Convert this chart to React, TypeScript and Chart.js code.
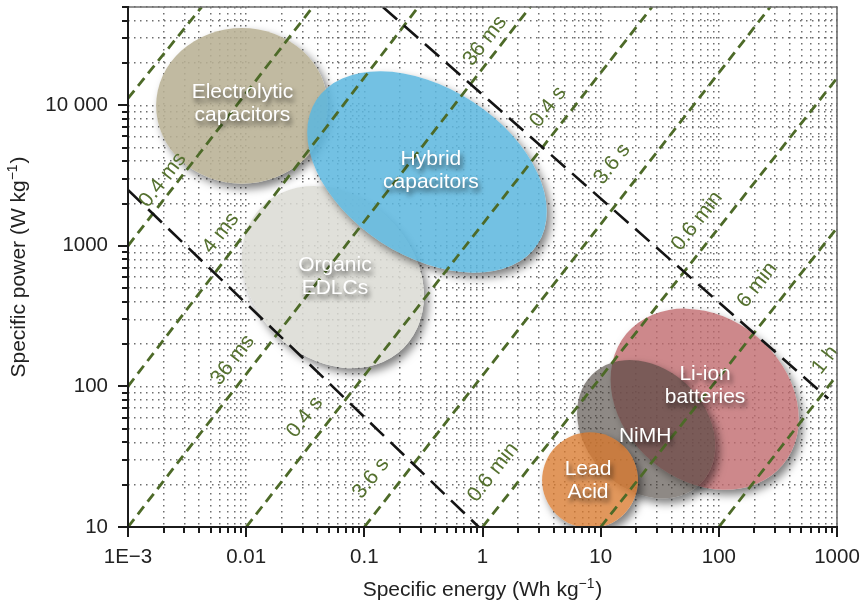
import React, { useEffect, useRef } from 'react';
import { Chart, registerables } from 'chart.js';

Chart.register(...registerables);

const FONT = '"Liberation Sans", Arial, Helvetica, sans-serif';

// Axis ranges, decades and printed tick labels
const energyMin = 0.001;
const energyMax = 1000;
const powerMin = 10;
const powerMax = 50000;
const energyDecades = [0.001, 0.01, 0.1, 1, 10, 100, 1000];
const energyTickLabels = ['1E\u22123', '0.01', '0.1', '1', '10', '100', '1000'];
const powerDecades = [10, 100, 1000, 10000];
const powerTickLabels = ['10', '100', '1000', '10 000'];

// Constant time lines (green): start and end point of each, [energy, power]
const timeLineStart: [number, number][] = [
  [0.001, 11200], [0.001, 1000], [0.001, 100], [0.001, 10],
  [0.01, 10], [0.1, 10], [1, 10], [10, 10], [100, 10],
];
const timeLineEnd: [number, number][] = [
  [0.0042, 50000], [0.0366, 50000], [0.286, 50000], [2.53, 50000],
  [27.2, 50000], [272, 50000], [1000, 15600], [1000, 1340], [1000, 120],
];

// Black dashed guide lines, [energy, power]
const guideLineStart: [number, number][] = [[0.001, 2500], [0.1435, 50000]];
const guideLineEnd: [number, number][] = [[0.93, 10], [843, 82]];

// Time labels along the green lines
const timeLabelText = ['0.4 ms', '4 ms', '36 ms', '0.4 s', '3.6 s', '0.6 min', '36 ms', '0.4 s', '3.6 s', '0.6 min', '6 min', '1 h'];
const timeLabelEnergy = [0.00197, 0.0061, 0.0077, 0.0314, 0.114, 1.23, 1.05, 3.59, 12.5, 65.6, 211, 796];
const timeLabelPower = [2940, 1233, 154, 60.4, 22.2, 24.5, 28700, 9720, 3820, 1500, 526, 154];

// Storage technology regions (drawn in this order)
const regionNames = ['Electrolytic\ncapacitors', 'Organic\nEDLCs', 'Hybrid\ncapacitors', 'Li-ion\nbatteries', 'NiMH', 'Lead\nAcid'];
const regionEnergy = [0.0092, 0.0542, 0.339, 75.9, 24.3, 8.13];
const regionPower = [9900, 600, 3350, 81.1, 49.6, 21.5];
// end of each region's major semi-axis
const regionAxisEnergy = [0.049, 0.215, 2.93, 348, 70, 20.7];
const regionAxisPower = [9900, 188, 1030, 27.7, 20.3, 21.5];
// minor / major axis ratio
const regionAspect = [0.907, 0.81, 0.636, 0.8, 0.785, 1.0];
const regionColors = [
  'rgba(184,176,148,0.88)',
  'rgba(219,219,212,0.86)',
  'rgba(92,183,222,0.86)',
  'rgba(192,106,110,0.8)',
  'rgba(72,64,58,0.62)',
  'rgba(216,122,46,0.78)',
];
const regionLabelEnergy = [0.0093, 0.0564, 0.366, 76.5, 23.8, 7.82];
const regionLabelPower = [10200, 600, 3400, 102, 44.3, 21.5];

const GREEN = '#4d6a28';

function logTickValues(min: number, max: number): number[] {
  const out: number[] = [];
  for (let e = Math.floor(Math.log10(min)); e <= Math.ceil(Math.log10(max)); e++) {
    for (let m = 1; m <= 9; m++) {
      const v = parseFloat((m * Math.pow(10, e)).toPrecision(6));
      if (v >= min * 0.999 && v <= max * 1.001) out.push(v);
    }
  }
  return out;
}

const energyTickValues = logTickValues(energyMin, energyMax);
const powerTickValues = logTickValues(powerMin, powerMax);

function decadeIndex(v: number, decades: number[]): number {
  return decades.findIndex((d) => Math.abs(Math.log10(v) - Math.log10(d)) < 1e-6);
}

function drawTitleWithUnit(ctx: CanvasRenderingContext2D, before: string, sup: string, after: string, size: number) {
  // draws text centred on (0,0) baseline with a raised superscript part
  ctx.font = `${size}px ${FONT}`;
  const w1 = ctx.measureText(before).width;
  const w3 = ctx.measureText(after).width;
  ctx.font = `${size * 0.66}px ${FONT}`;
  const w2 = ctx.measureText(sup).width;
  const total = w1 + w2 + w3 + 1;
  let x = -total / 2;
  ctx.textAlign = 'left';
  ctx.textBaseline = 'alphabetic';
  ctx.font = `${size}px ${FONT}`;
  ctx.fillText(before, x, 0);
  x += w1;
  ctx.font = `${size * 0.66}px ${FONT}`;
  ctx.fillText(sup, x, -size * 0.4);
  x += w2 + 1;
  ctx.font = `${size}px ${FONT}`;
  ctx.fillText(after, x, 0);
}

const regionsPlugin = {
  id: 'regions',
  beforeDatasetsDraw(chart: any) {
    const { ctx, chartArea: ca, scales } = chart;
    const xs = scales.x;
    const ys = scales.y;
    ctx.save();
    ctx.beginPath();
    ctx.rect(ca.left, ca.top, ca.right - ca.left, ca.bottom - ca.top);
    ctx.clip();
    regionNames.forEach((_, i) => {
      const cx = xs.getPixelForValue(regionEnergy[i]);
      const cy = ys.getPixelForValue(regionPower[i]);
      const ex = xs.getPixelForValue(regionAxisEnergy[i]);
      const ey = ys.getPixelForValue(regionAxisPower[i]);
      const a = Math.hypot(ex - cx, ey - cy);
      const b = a * regionAspect[i];
      const ang = Math.atan2(ey - cy, ex - cx);

      // soft drop shadow, kept outside the shape so the translucent fill stays clean
      ctx.save();
      ctx.beginPath();
      ctx.rect(0, 0, chart.width, chart.height);
      ctx.ellipse(cx, cy, a, b, ang, 0, Math.PI * 2);
      ctx.clip('evenodd');
      const shift = 3000;
      ctx.shadowColor = 'rgba(0,0,0,0.5)';
      ctx.shadowBlur = 9;
      ctx.shadowOffsetX = shift + 4;
      ctx.shadowOffsetY = 5;
      ctx.fillStyle = '#000';
      ctx.beginPath();
      ctx.ellipse(cx - shift, cy, a, b, ang, 0, Math.PI * 2);
      ctx.fill();
      ctx.restore();

      ctx.fillStyle = regionColors[i];
      ctx.beginPath();
      ctx.ellipse(cx, cy, a, b, ang, 0, Math.PI * 2);
      ctx.fill();
    });
    ctx.restore();
  },
  afterDatasetsDraw(chart: any) {
    const { ctx, scales } = chart;
    const xs = scales.x;
    const ys = scales.y;
    ctx.save();
    // time constant labels
    ctx.fillStyle = '#55712f';
    ctx.font = `21px ${FONT}`;
    ctx.textAlign = 'center';
    ctx.textBaseline = 'middle';
    timeLabelText.forEach((t, i) => {
      const px = xs.getPixelForValue(timeLabelEnergy[i]);
      const py = ys.getPixelForValue(timeLabelPower[i]);
      ctx.save();
      ctx.translate(px, py);
      ctx.rotate((-52 * Math.PI) / 180);
      ctx.fillText(t, 0, 0);
      ctx.restore();
    });
    // region names
    ctx.font = `21px ${FONT}`;
    ctx.fillStyle = '#ffffff';
    ctx.shadowColor = 'rgba(0,0,0,0.65)';
    ctx.shadowBlur = 5;
    ctx.shadowOffsetX = 2;
    ctx.shadowOffsetY = 4;
    regionNames.forEach((name, i) => {
      const px = xs.getPixelForValue(regionLabelEnergy[i]);
      const py = ys.getPixelForValue(regionLabelPower[i]);
      const lines = name.split('\n');
      const lh = 23;
      lines.forEach((ln, k) => {
        ctx.fillText(ln, px, py + (k - (lines.length - 1) / 2) * lh);
      });
    });
    ctx.restore();
  },
  afterDraw(chart: any) {
    const { ctx, chartArea: ca, scales } = chart;
    const xs = scales.x;
    const ys = scales.y;
    ctx.save();
    // frame: light on top and right, dark axes on left and bottom
    ctx.strokeStyle = '#6e6e6e';
    ctx.lineWidth = 1.6;
    ctx.beginPath();
    ctx.moveTo(ca.left, ca.top);
    ctx.lineTo(ca.right, ca.top);
    ctx.lineTo(ca.right, ca.bottom);
    ctx.stroke();
    ctx.strokeStyle = '#1b1b1b';
    ctx.lineWidth = 2;
    ctx.beginPath();
    ctx.moveTo(ca.left, ca.top - 1);
    ctx.lineTo(ca.left, ca.bottom);
    ctx.lineTo(ca.right + 1, ca.bottom);
    ctx.stroke();
    ctx.beginPath();
    energyTickValues.forEach((v) => {
      const px = Math.round(xs.getPixelForValue(v));
      const len = decadeIndex(v, energyDecades) >= 0 ? 10 : 6;
      ctx.moveTo(px, ca.bottom);
      ctx.lineTo(px, ca.bottom + len);
    });
    powerTickValues.forEach((v) => {
      const py = Math.round(ys.getPixelForValue(v));
      const len = decadeIndex(v, powerDecades) >= 0 ? 10 : 6;
      ctx.moveTo(ca.left, py);
      ctx.lineTo(ca.left - len, py);
    });
    ctx.stroke();

    // axis titles
    ctx.fillStyle = '#222';
    ctx.save();
    ctx.translate((ca.left + ca.right) / 2, 596);
    drawTitleWithUnit(ctx, 'Specific energy (Wh kg', '\u22121', ')', 21);
    ctx.restore();
    ctx.save();
    ctx.translate(25, (ca.top + ca.bottom) / 2);
    ctx.rotate(-Math.PI / 2);
    drawTitleWithUnit(ctx, 'Specific power (W kg', '\u22121', ')', 21);
    ctx.restore();
    ctx.restore();
  },
};

function lineDataset(start: [number, number], end: [number, number], color: string, width: number, dash: number[], order: number) {
  return {
    data: [{ x: start[0], y: start[1] }, { x: end[0], y: end[1] }],
    borderColor: color,
    borderWidth: width,
    borderDash: dash,
    borderCapStyle: 'butt',
    pointRadius: 0,
    showLine: true,
    fill: false,
    order,
  };
}

export default function App() {
  const ref = useRef<HTMLCanvasElement>(null);

  useEffect(() => {
    document.body.style.margin = '0';
    const datasets: any[] = [
      ...guideLineStart.map((s, i) => lineDataset(s, guideLineEnd[i], '#141414', 2.6, [19, 9], 0)),
      ...timeLineStart.map((s, i) => lineDataset(s, timeLineEnd[i], GREEN, 2.8, [10, 6], 1)),
    ];
    const chart = new Chart(ref.current as HTMLCanvasElement, {
      type: 'scatter',
      data: { datasets },
      options: {
        responsive: false,
        animation: false,
        devicePixelRatio: 1,
        events: [],
        layout: { padding: { top: 7, left: 0, right: 0, bottom: 0 } },
        plugins: {
          legend: { display: false },
          tooltip: { enabled: false },
        },
        scales: {
          x: {
            type: 'logarithmic',
            position: 'bottom',
            min: energyMin,
            max: energyMax,
            afterBuildTicks: (s: any) => {
              s.ticks = energyTickValues.map((v) => ({ value: v }));
            },
            afterFit: (s: any) => {
              s.height = 78;
              s.paddingLeft = 0;
              s.paddingRight = 24;
            },
            ticks: {
              autoSkip: false,
              maxRotation: 0,
              minRotation: 0,
              padding: 18,
              color: '#222',
              font: { family: FONT, size: 20.5 },
              callback: (v: any) => {
                const k = decadeIndex(Number(v), energyDecades);
                return k >= 0 ? energyTickLabels[k] : '';
              },
            },
            grid: { color: 'rgba(85,85,85,0.85)', lineWidth: 1.5, drawTicks: false },
            border: { display: false, dash: [1.5, 4.5] },
          },
          y: {
            type: 'logarithmic',
            position: 'left',
            min: powerMin,
            max: powerMax,
            afterBuildTicks: (s: any) => {
              s.ticks = powerTickValues.map((v) => ({ value: v }));
            },
            afterFit: (s: any) => {
              s.width = 128;
              s.paddingTop = 0;
              s.paddingBottom = 0;
            },
            ticks: {
              autoSkip: false,
              padding: 20,
              color: '#222',
              font: { family: FONT, size: 20.5 },
              callback: (v: any) => {
                const k = decadeIndex(Number(v), powerDecades);
                return k >= 0 ? powerTickLabels[k] : '';
              },
            },
            grid: { color: 'rgba(85,85,85,0.85)', lineWidth: 1.5, drawTicks: false },
            border: { display: false, dash: [1.5, 4.5] },
          },
        },
      } as any,
      plugins: [regionsPlugin],
    });
    return () => chart.destroy();
  }, []);

  return (
    <div style={{ width: 861, height: 605, background: '#ffffff' }}>
      <canvas ref={ref} width={861} height={605} style={{ display: 'block' }} />
    </div>
  );
}
